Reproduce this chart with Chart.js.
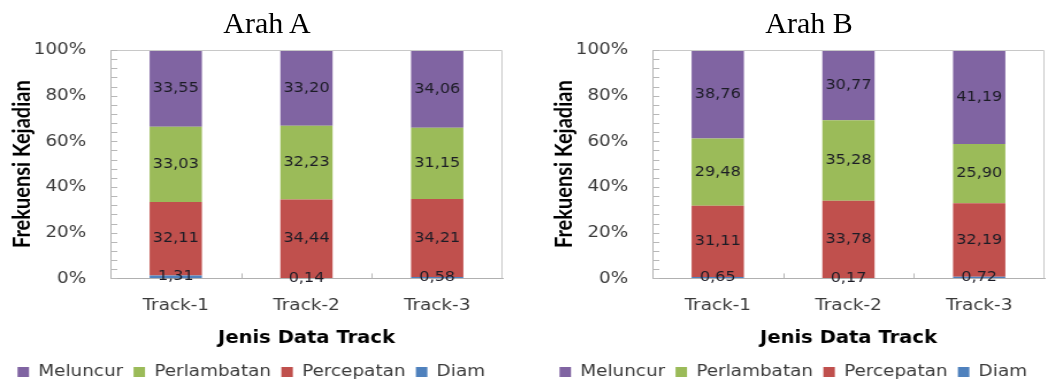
<!DOCTYPE html>
<html>
<head>
<meta charset="utf-8">
<script src="https://cdn.jsdelivr.net/npm/chart.js@4.4.1/dist/chart.umd.min.js"></script>
<style>
  body { margin:0; background:#fff; width:1047px; height:383px; overflow:hidden; position:relative; }
  .panel { position:absolute; top:0; width:534px; height:383px; }
  .judul { position:absolute; top:8px; left:0; width:534px; text-align:center; font:30px/30px "Liberation Serif", "Times New Roman", serif; color:#000; }
  .wrap { position:absolute; top:0; left:0; transform:scaleX(1.15); transform-origin:0 0; }
</style>
</head>
<body>
<div class="panel" style="left:0">
  <div class="wrap"><canvas id="grafikA" width="449" height="383"></canvas></div>
  <div class="judul">Arah A</div>
</div>
<div class="panel" style="left:542px">
  <div class="wrap"><canvas id="grafikB" width="449" height="383"></canvas></div>
  <div class="judul">Arah B</div>
</div>
<script>
// kategori track
const track = ['Track-1', 'Track-2', 'Track-3'];

// Arah A (persen)
const diamA = [1.31, 0.14, 0.58];
const percepatanA = [32.11, 34.44, 34.21];
const perlambatanA = [33.03, 32.23, 31.15];
const meluncurA = [33.55, 33.20, 34.06];

// Arah B (persen)
const diamB = [0.65, 0.17, 0.72];
const percepatanB = [31.11, 33.78, 32.19];
const perlambatanB = [29.48, 35.28, 25.90];
const meluncurB = [38.76, 30.77, 41.19];

const warna = { diam: '#4F81BD', percepatan: '#C0504D', perlambatan: '#9BBB59', meluncur: '#8064A2' };
const fontUmum = { family: '"DejaVu Sans", Verdana, sans-serif', size: 16 };

// angka di tengah tiap segmen batang
const labelNilai = {
  id: 'labelNilai',
  afterDatasetsDraw(chart) {
    const ctx = chart.ctx;
    ctx.save();
    ctx.font = '14px "DejaVu Sans", Verdana, sans-serif';
    ctx.fillStyle = '#1c1c26';
    ctx.textAlign = 'center';
    ctx.textBaseline = 'middle';
    chart.data.datasets.forEach((ds, i) => {
      chart.getDatasetMeta(i).data.forEach((bar, j) => {
        const teks = ds.data[j].toFixed(2).replace('.', ',');
        ctx.fillText(teks, bar.x, (bar.y + bar.base) / 2);
      });
    });
    ctx.restore();
  }
};

// bingkai abu-abu + garis tick ke arah dalam
const bingkai = {
  id: 'bingkai',
  afterDraw(chart) {
    const a = chart.chartArea;
    const ctx = chart.ctx;
    const sx = chart.scales.x, sy = chart.scales.y;
    ctx.save();
    ctx.lineWidth = 1;
    ctx.strokeStyle = '#c8c8c8';
    ctx.beginPath();
    ctx.moveTo(a.left, a.top + 0.5);
    ctx.lineTo(a.right - 0.5, a.top + 0.5);
    ctx.lineTo(a.right - 0.5, a.bottom);
    ctx.stroke();

    ctx.strokeStyle = '#b8b8b8';
    ctx.beginPath();
    sy.ticks.forEach(t => {
      const y = Math.round(sy.getPixelForValue(t.value)) + 0.5;
      ctx.moveTo(a.left, y);
      ctx.lineTo(a.left + 6, y);
    });
    for (let i = 0; i < sx.ticks.length - 1; i++) {
      const x = Math.round((sx.getPixelForTick(i) + sx.getPixelForTick(i + 1)) / 2) + 0.5;
      ctx.moveTo(x, a.bottom);
      ctx.lineTo(x, a.bottom - 5);
    }
    ctx.stroke();
    ctx.restore();
  }
};

function buatGrafik(id, diam, percepatan, perlambatan, meluncur) {
  const ctx = document.getElementById(id).getContext('2d');
  return new Chart(ctx, {
    type: 'bar',
    data: {
      labels: track,
      datasets: [
        { label: 'Diam', data: diam, backgroundColor: warna.diam },
        { label: 'Percepatan', data: percepatan, backgroundColor: warna.percepatan },
        { label: 'Perlambatan', data: perlambatan, backgroundColor: warna.perlambatan },
        { label: 'Meluncur', data: meluncur, backgroundColor: warna.meluncur }
      ]
    },
    options: {
      responsive: false,
      animation: false,
      devicePixelRatio: 1,
      datasets: { bar: { barPercentage: 0.4, categoryPercentage: 1, borderWidth: 0 } },
      layout: { padding: { top: 50, right: 12, left: 0, bottom: -7 } },
      plugins: {
        tooltip: { enabled: false },
        legend: {
          position: 'bottom',
          reverse: true,
          labels: { boxWidth: 10, boxHeight: 10, padding: 9, font: fontUmum, color: '#3a3a3a' }
        }
      },
      scales: {
        x: {
          stacked: true,
          grid: { display: false },
          border: { color: '#b0b0b0' },
          ticks: { font: fontUmum, color: '#3a3a3a', padding: 10 },
          title: {
            display: true, text: 'Jenis Data Track', color: '#000',
            font: { family: '"DejaVu Sans", Verdana, sans-serif', size: 17, weight: 'bold' },
            padding: { top: 3, bottom: 6 }
          }
        },
        y: {
          stacked: true,
          min: 0, max: 100,
          afterFit(scale) { scale.width = 96; },
          grid: { drawOnChartArea: false, drawTicks: false },
          border: { color: '#b0b0b0' },
          ticks: {
            stepSize: 4, autoSkip: false, font: fontUmum, color: '#3a3a3a', padding: 21,
            callback: v => (v % 20 === 0 ? v + '%' : '')
          },
          title: {
            display: true, text: 'Frekuensi Kejadian', color: '#000',
            font: { family: 'Lato, "DejaVu Sans", sans-serif', size: 20, weight: 'bold' },
            padding: { top: 8, bottom: 0 }
          }
        }
      }
    },
    plugins: [labelNilai, bingkai]
  });
}

buatGrafik('grafikA', diamA, percepatanA, perlambatanA, meluncurA);
buatGrafik('grafikB', diamB, percepatanB, perlambatanB, meluncurB);
</script>
</body>
</html>
